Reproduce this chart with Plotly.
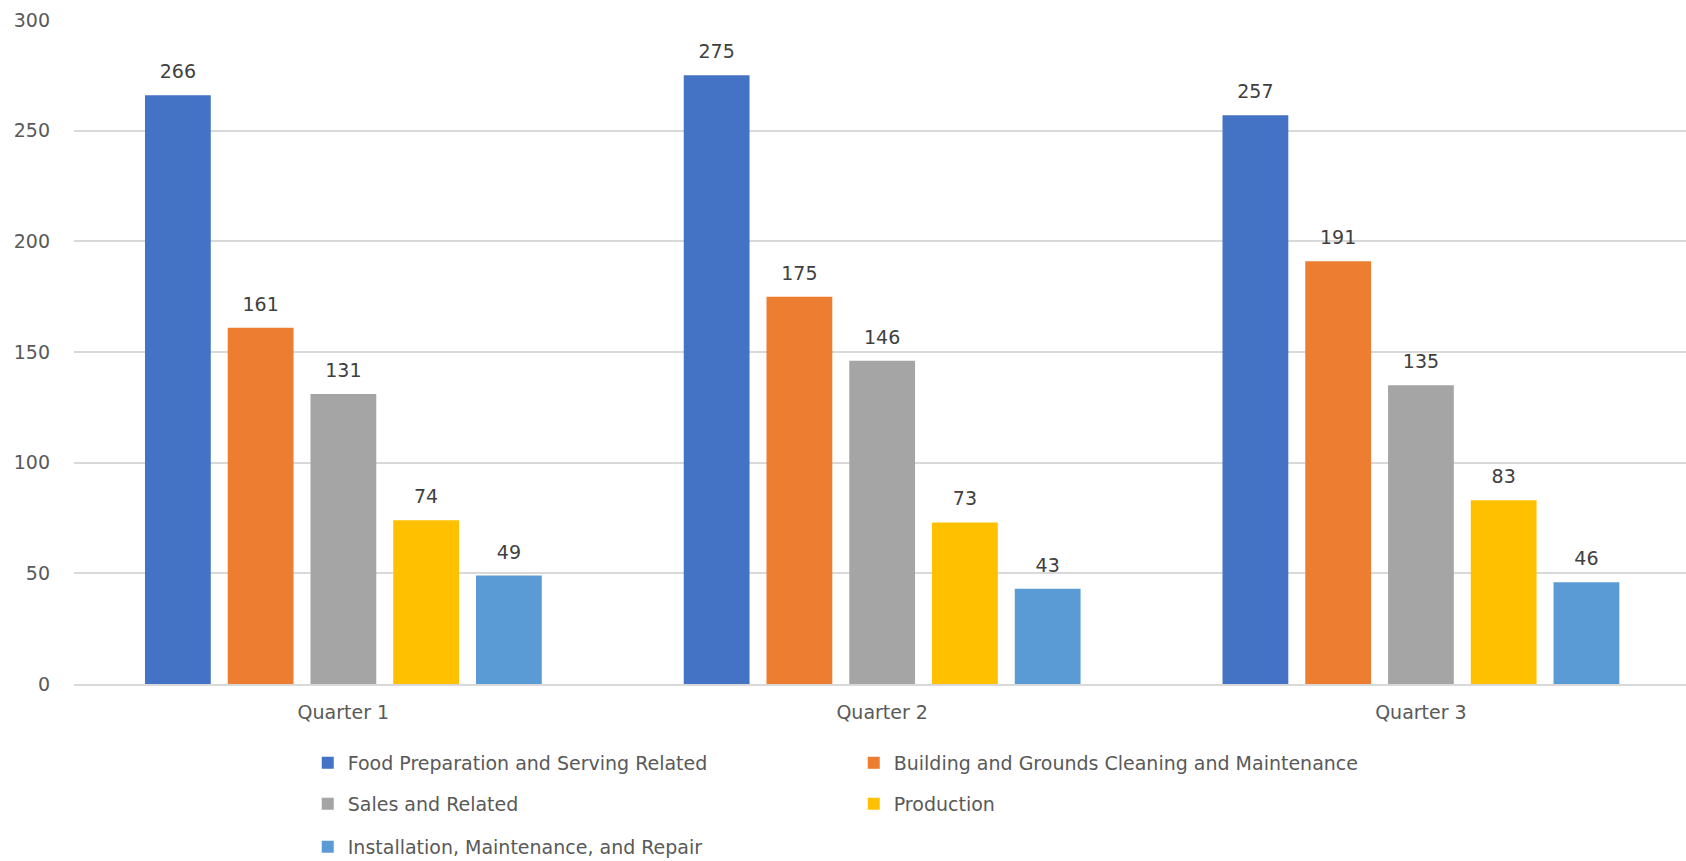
import plotly.graph_objects as go

quarters = ["Quarter 1", "Quarter 2", "Quarter 3"]
series_names = [
    "Food Preparation and Serving Related",
    "Building and Grounds Cleaning and Maintenance",
    "Sales and Related",
    "Production",
    "Installation, Maintenance, and Repair",
]
food = [266, 275, 257]
building = [161, 175, 191]
sales = [131, 146, 135]
production = [74, 73, 83]
installation = [49, 43, 46]
y_ticks = [0, 50, 100, 150, 200, 250, 300]

values = [food, building, sales, production, installation]
colors = ["#4472C4", "#ED7D31", "#A5A5A5", "#FFC000", "#5B9BD5"]
legend_of = ["legend", "legend", "legend2", "legend2", "legend3"]

FONT = "DejaVu Sans"
fig = go.Figure()
for i, (name, vals) in enumerate(zip(series_names, values)):
    fig.add_trace(go.Bar(
        x=quarters, y=vals, name=name, marker_color=colors[i],
        marker_line_width=0, offsetgroup=str(i), legend=legend_of[i],
    ))
for i, (name, vals) in enumerate(zip(series_names, values)):
    fig.add_trace(go.Scatter(
        x=quarters, y=vals, mode="markers+text", text=[str(v) for v in vals],
        textposition="top center", textfont=dict(family=FONT, size=19, color="#404040"),
        marker=dict(size=18, opacity=0), offsetgroup=str(i), showlegend=False,
        hoverinfo="skip", cliponaxis=False,
    ))

legend_common = dict(
    orientation="h", xref="paper", yref="paper", x=0.145, xanchor="left",
    yanchor="middle", entrywidth=501, entrywidthmode="pixels",
    font=dict(family=FONT, size=19, color="#595959"), bgcolor="rgba(0,0,0,0)",
    itemwidth=30, traceorder="normal",
)
fig.update_layout(
    width=1686, height=861,
    margin=dict(l=74, r=0, t=20, b=177, autoexpand=False),
    paper_bgcolor="white", plot_bgcolor="white",
    barmode="group", bargap=0.232, bargroupgap=0.205,
    scattermode="group", scattergap=0.232,
    font=dict(family=FONT, size=19, color="#595959"),
    legend=dict(y=-0.1189, **legend_common),
    legend2=dict(y=-0.1806, **legend_common),
    legend3=dict(y=-0.2453, **legend_common),
    xaxis=dict(showgrid=False, showline=True, linecolor="#d9d9d9", linewidth=1.5,
               ticks="", tickfont=dict(family=FONT, size=19, color="#595959"),
               ticklabelstandoff=10, range=[-0.5, 2.492]),
    yaxis=dict(range=[0, 300], tickvals=y_ticks, showgrid=True, gridcolor="#d9d9d9",
               gridwidth=1.5, zeroline=False, showline=False, ticks="",
               tickfont=dict(family=FONT, size=19, color="#595959"),
               ticklabelstandoff=23),
    showlegend=True,
)

fig.write_html("out.html", config={"displayModeBar": False},
               post_script="document.body.style.margin='0';document.body.style.overflow='hidden';")
